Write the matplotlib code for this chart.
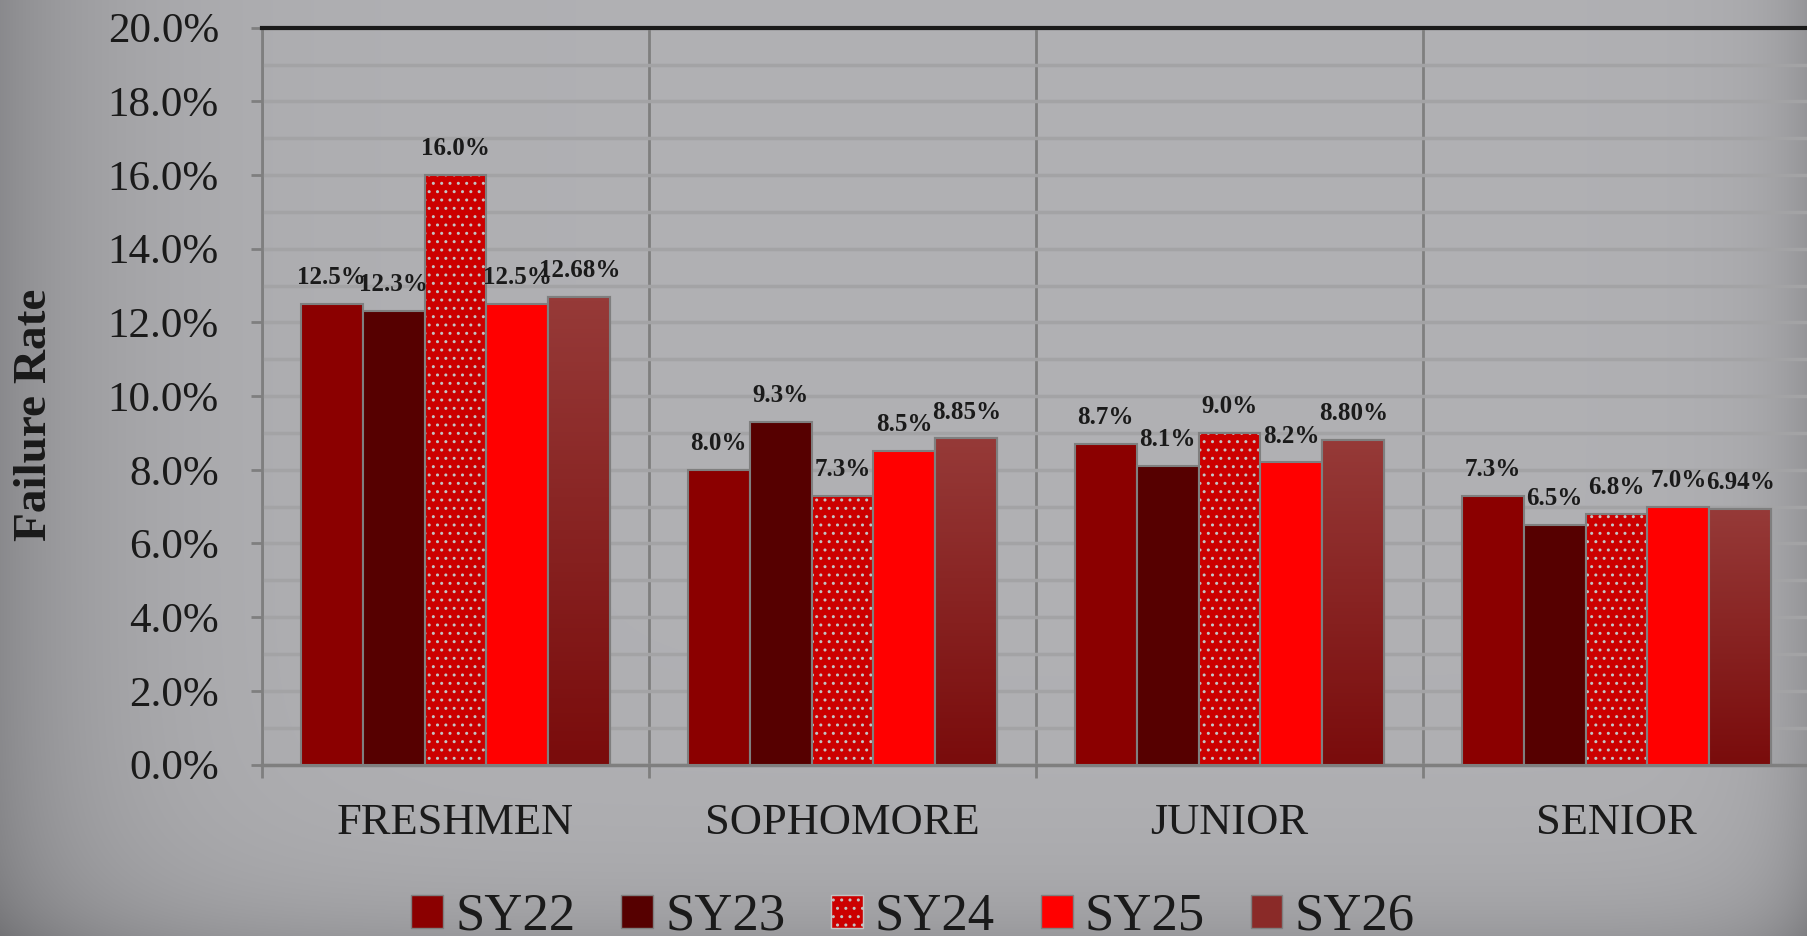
import numpy as np
import matplotlib
matplotlib.use('Agg')
import matplotlib.pyplot as plt
from matplotlib.colors import LinearSegmentedColormap
from matplotlib.patches import Patch

# Failure rate (%) by grade level and school year
grades = ['FRESHMEN', 'SOPHOMORE', 'JUNIOR', 'SENIOR']
years = ['SY22', 'SY23', 'SY24', 'SY25', 'SY26']
sy22 = [12.5, 8.0, 8.7, 7.3]
sy23 = [12.3, 9.3, 8.1, 6.5]
sy24 = [16.0, 7.3, 9.0, 6.8]
sy25 = [12.5, 8.5, 8.2, 7.0]
sy26 = [12.68, 8.85, 8.80, 6.94]
decimals = [1, 1, 1, 1, 2]
yticks = [0, 2, 4, 6, 8, 10, 12, 14, 16, 18, 20]

series = [sy22, sy23, sy24, sy25, sy26]

plt.rcParams['font.family'] = 'serif'
plt.rcParams['font.serif'] = ['Liberation Serif', 'DejaVu Serif']
plt.rcParams['hatch.linewidth'] = 1.0

W, H = 1808, 936
fig = plt.figure(figsize=(W/100, H/100), dpi=100)

# grey gradient background, darker toward left, right and bottom
xx = np.arange(W)[None, :]
yy = np.arange(H)[:, None]
shade = 0.695 - 0.15*np.exp(-xx/110.0) - 0.11*np.exp(-(W - xx)/45.0) - 0.09*np.exp(-(H - yy)/55.0)
bg = np.dstack([shade - 0.004, shade - 0.004, shade + 0.008])
bg = np.clip(bg, 0, 1)
bgax = fig.add_axes([0, 0, 1, 1], zorder=-10)
bgax.imshow(bg, aspect='auto', extent=[0, 1, 0, 1])
bgax.axis('off')

ax = fig.add_axes([262/W, 1 - 764.5/H, 1548/W, (764.5 - 27.7)/H])
ax.set_facecolor('none')

x = np.arange(len(grades))
bw = 0.16
colors = ['#8b0000', '#560000', '#cc0000', '#ff0000', '#8a2a28']
edge = '#7f7f7f'
grad_cmap = LinearSegmentedColormap.from_list('sy26', ['#7a0c0c', '#963a38'])

for i, vals in enumerate(series):
    xpos = x + (i - 2)*bw
    if i == 2:
        ax.bar(xpos, vals, bw, color=colors[i], edgecolor='#c4c4c4', hatch='..',
               linewidth=0, zorder=3)
        ax.bar(xpos, vals, bw, fill=False, edgecolor=edge, linewidth=1.5, zorder=4)
    elif i == 4:
        bars = ax.bar(xpos, vals, bw, color=colors[i], edgecolor=edge, linewidth=1.5, zorder=3)
        for b in bars:
            x0 = b.get_x()
            h = b.get_height()
            im = ax.imshow(np.linspace(0, 1, 100)[:, None], cmap=grad_cmap, origin='lower',
                           extent=[x0, x0 + bw, 0, h], aspect='auto', zorder=3.5)
            im.set_clip_path(b)
        ax.bar(xpos, vals, bw, fill=False, edgecolor=edge, linewidth=1.5, zorder=4)
    else:
        ax.bar(xpos, vals, bw, color=colors[i], edgecolor=edge, linewidth=1.5, zorder=3)
    for xp, v in zip(xpos, vals):
        ax.annotate(f'{v:.{decimals[i]}f}%', (xp, v), xytext=(0, 19), textcoords='offset points',
                    ha='center', va='center', fontsize=18, fontweight='bold',
                    color='#1a1a1a', zorder=6)

ax.set_xlim(-0.5, len(grades) - 0.5)
ax.set_ylim(0, 20)

ax.set_yticks(yticks)
ax.set_yticklabels([f'{t:.1f}%' for t in yticks])
ax.set_yticks(np.arange(1, 20, 2), minor=True)
ax.set_xticks(x)
ax.set_xticklabels(grades)
ax.set_xticks(np.arange(-0.5, len(grades), 1), minor=True)

ax.tick_params(axis='y', which='major', direction='out', length=8, width=2, color=edge,
               labelsize=31, pad=23, labelcolor='#1a1a1a')
ax.tick_params(axis='y', which='minor', length=0)
ax.tick_params(axis='x', which='major', length=0, labelsize=32, pad=28, labelcolor='#1a1a1a')
ax.tick_params(axis='x', which='minor', direction='out', length=9, width=2, color=edge)

ax.grid(axis='y', which='both', color='#a3a3a5', linewidth=2.5, zorder=0)
ax.grid(axis='x', which='minor', color=edge, linewidth=2, zorder=1)
ax.set_axisbelow(True)

ax.spines['top'].set_color('#1a1a1a')
ax.spines['top'].set_linewidth(3)
ax.spines['left'].set_color(edge)
ax.spines['left'].set_linewidth(2)
ax.spines['bottom'].set_color(edge)
ax.spines['bottom'].set_linewidth(2.5)
ax.spines['right'].set_visible(False)

fig.text(35/W, 1 - 415/H, 'Failure Rate', rotation=90, ha='center', va='center',
         fontsize=34, fontweight='bold', color='#1a1a1a')

handles = []
for i, name in enumerate(years):
    if i == 2:
        handles.append(Patch(facecolor=colors[i], edgecolor='#c4c4c4', hatch='..', label=name))
    else:
        handles.append(Patch(facecolor=colors[i], edgecolor=edge, label=name))
fig.legend(handles=handles, loc='center', bbox_to_anchor=(0.505, 1 - 917/H), ncol=5,
           frameon=False, fontsize=38, handlelength=0.6, handleheight=0.6,
           handletextpad=0.23, columnspacing=0.87, labelcolor='#1a1a1a')

plt.savefig('out.png', dpi=100)
